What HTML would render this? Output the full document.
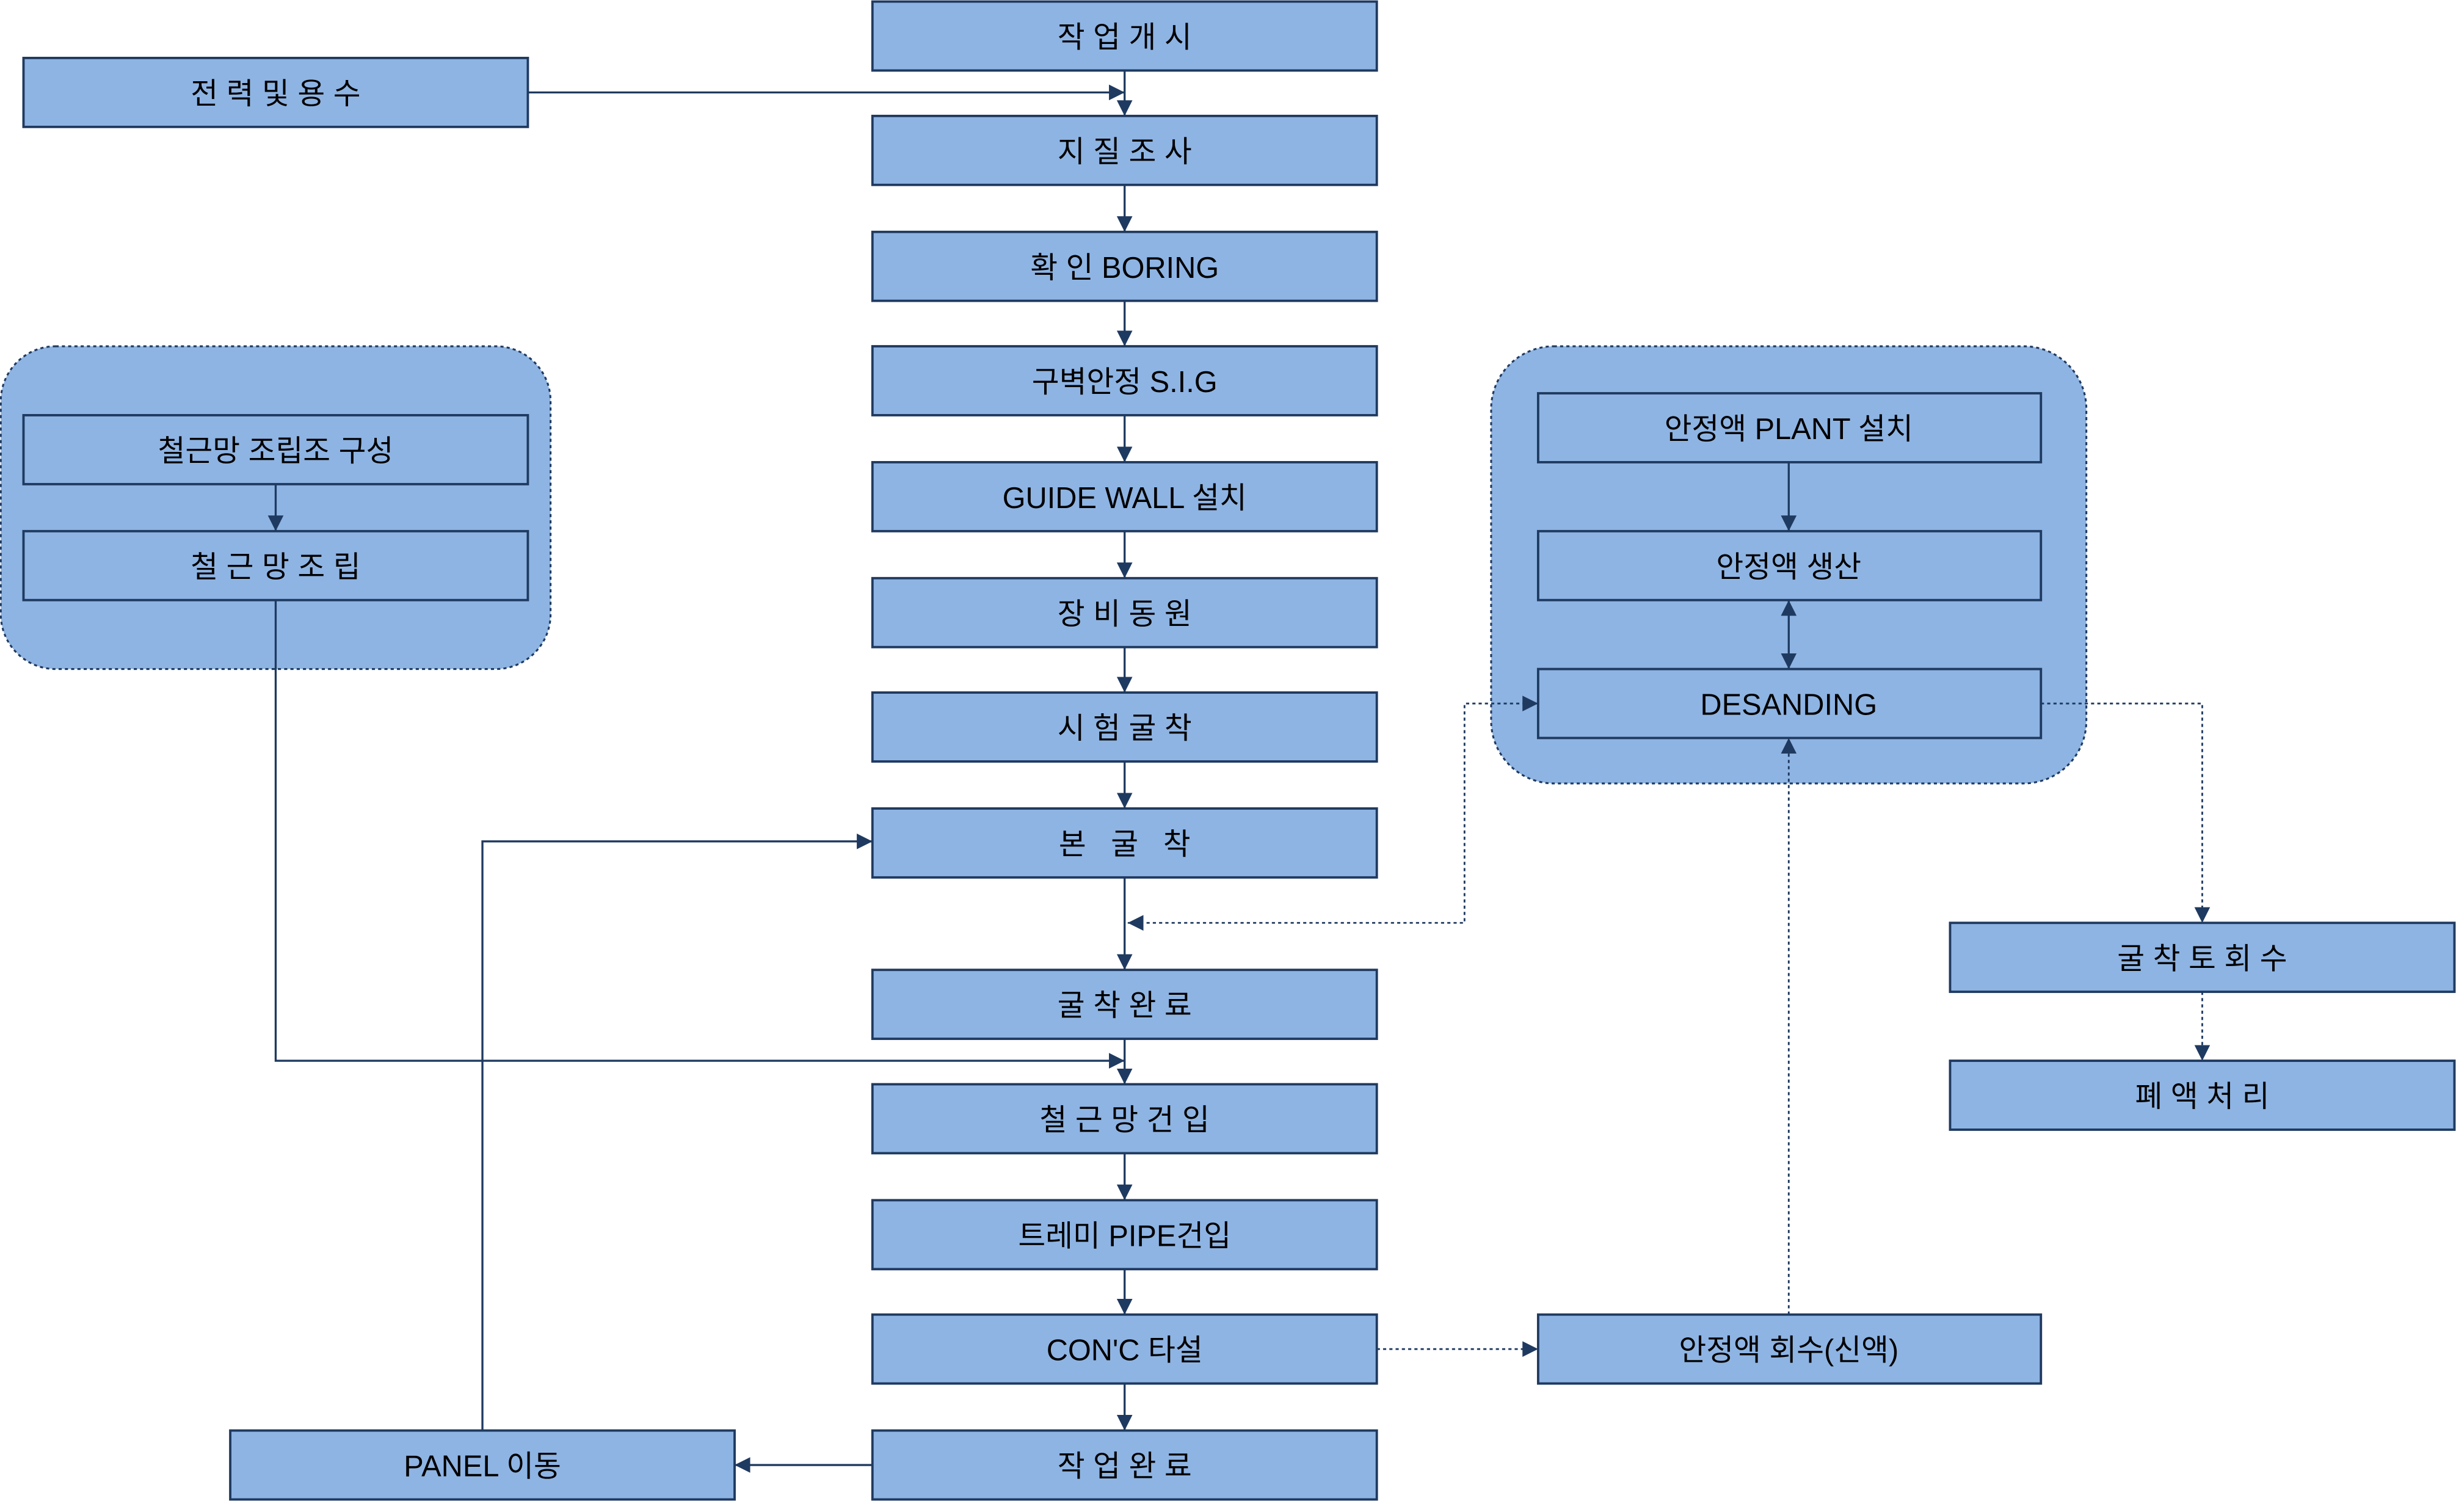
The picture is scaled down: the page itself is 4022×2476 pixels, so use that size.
<!DOCTYPE html>
<html><head><meta charset="utf-8"><style>
html,body{margin:0;padding:0;background:#fff;}
svg{display:block;}
text{font-family:"Liberation Sans","Noto Sans CJK KR","NanumGothic",sans-serif;font-size:19px;fill:#000;text-anchor:middle;dominant-baseline:central;}
</style></head><body>
<svg width="4022" height="2476" viewBox="0 0 1568 965" preserveAspectRatio="none" xmlns="http://www.w3.org/2000/svg">
<defs>
<marker id="a" viewBox="0 0 10 10" refX="10" refY="5" markerWidth="10" markerHeight="10" markerUnits="userSpaceOnUse" orient="auto-start-reverse"><path d="M0,0 L10,5 L0,10 z" fill="#1f3a60"/></marker>
</defs>
<g fill="#8eb4e3" stroke="#1f3a60" stroke-width="1.2" stroke-dasharray="2,2">
<rect x="0.5" y="221" width="351" height="206" rx="35"/>
<rect x="952" y="221" width="380" height="279" rx="40"/>
</g>
<g fill="#8eb4e3" stroke="#1f3a60" stroke-width="1.5">
<rect x="557" y="1" width="322" height="44"/>
<rect x="557" y="74" width="322" height="44"/>
<rect x="557" y="148" width="322" height="44"/>
<rect x="557" y="221" width="322" height="44"/>
<rect x="557" y="295" width="322" height="44"/>
<rect x="557" y="369" width="322" height="44"/>
<rect x="557" y="442" width="322" height="44"/>
<rect x="557" y="516" width="322" height="44"/>
<rect x="557" y="619" width="322" height="44"/>
<rect x="557" y="692" width="322" height="44"/>
<rect x="557" y="766" width="322" height="44"/>
<rect x="557" y="839" width="322" height="44"/>
<rect x="557" y="913" width="322" height="44"/>
<rect x="15" y="37" width="322" height="44"/>
<rect x="15" y="265" width="322" height="44"/>
<rect x="15" y="339" width="322" height="44"/>
<rect x="982" y="251" width="321" height="44"/>
<rect x="982" y="339" width="321" height="44"/>
<rect x="982" y="427" width="321" height="44"/>
<rect x="982" y="839" width="321" height="44"/>
<rect x="1245" y="589" width="322" height="44"/>
<rect x="1245" y="677" width="322" height="44"/>
<rect x="147" y="913" width="322" height="44"/>
</g>
<g stroke="#1f3a60" stroke-width="1.3" fill="none">
<line x1="718" y1="45" x2="718" y2="74" marker-end="url(#a)"/>
<line x1="337" y1="59" x2="718" y2="59" marker-end="url(#a)"/>
<line x1="718" y1="118" x2="718" y2="148" marker-end="url(#a)"/>
<line x1="718" y1="192" x2="718" y2="221" marker-end="url(#a)"/>
<line x1="718" y1="265" x2="718" y2="295" marker-end="url(#a)"/>
<line x1="718" y1="339" x2="718" y2="369" marker-end="url(#a)"/>
<line x1="718" y1="413" x2="718" y2="442" marker-end="url(#a)"/>
<line x1="718" y1="486" x2="718" y2="516" marker-end="url(#a)"/>
<line x1="718" y1="560" x2="718" y2="619" marker-end="url(#a)"/>
<line x1="718" y1="663" x2="718" y2="692" marker-end="url(#a)"/>
<line x1="718" y1="736" x2="718" y2="766" marker-end="url(#a)"/>
<line x1="718" y1="810" x2="718" y2="839" marker-end="url(#a)"/>
<line x1="718" y1="883" x2="718" y2="913" marker-end="url(#a)"/>
<line x1="176" y1="309" x2="176" y2="339" marker-end="url(#a)"/>
<polyline points="176,383 176,677 718,677" marker-end="url(#a)"/>
<line x1="557" y1="935" x2="469" y2="935" marker-end="url(#a)"/>
<polyline points="308,913 308,537 557,537" marker-end="url(#a)"/>
<line x1="1142" y1="295" x2="1142" y2="339" marker-end="url(#a)"/>
<line x1="1142" y1="383" x2="1142" y2="427" marker-start="url(#a)" marker-end="url(#a)"/>
</g>
<g stroke="#1f3a60" stroke-width="1.1" fill="none" stroke-dasharray="2,2">
<polyline points="720,589 935,589 935,449 982,449" marker-start="url(#a)" marker-end="url(#a)"/>
<line x1="879" y1="861" x2="982" y2="861" marker-end="url(#a)"/>
<line x1="1142" y1="839" x2="1142" y2="471" marker-end="url(#a)"/>
<polyline points="1303,449 1406,449 1406,589" marker-end="url(#a)"/>
<line x1="1406" y1="633" x2="1406" y2="677" marker-end="url(#a)"/>
</g>
<g>
<text x="718" y="24">작 업 개 시</text>
<text x="718" y="97">지 질 조 사</text>
<text x="718" y="171">확 인 BORING</text>
<text x="718" y="244">구벽안정 S.I.G</text>
<text x="718" y="318">GUIDE WALL 설치</text>
<text x="718" y="392">장 비 동 원</text>
<text x="718" y="465">시 험 굴 착</text>
<text x="718" y="539">본 &#160; 굴 &#160; 착</text>
<text x="718" y="642">굴 착 완 료</text>
<text x="718" y="715">철 근 망 건 입</text>
<text x="718" y="789">트레미 PIPE건입</text>
<text x="718" y="862">CON'C 타설</text>
<text x="718" y="936">작 업 완 료</text>
<text x="176" y="60">전 력 및 용 수</text>
<text x="176" y="288">철근망 조립조 구성</text>
<text x="176" y="362">철 근 망 조 립</text>
<text x="1142" y="274">안정액 PLANT 설치</text>
<text x="1142" y="362">안정액 생산</text>
<text x="1142" y="450">DESANDING</text>
<text x="1142" y="862">안정액 회수(신액)</text>
<text x="1406" y="612">굴 착 토 회 수</text>
<text x="1406" y="700">폐 액 처 리</text>
<text x="308" y="936">PANEL 이동</text>
</g>
</svg>
</body></html>
